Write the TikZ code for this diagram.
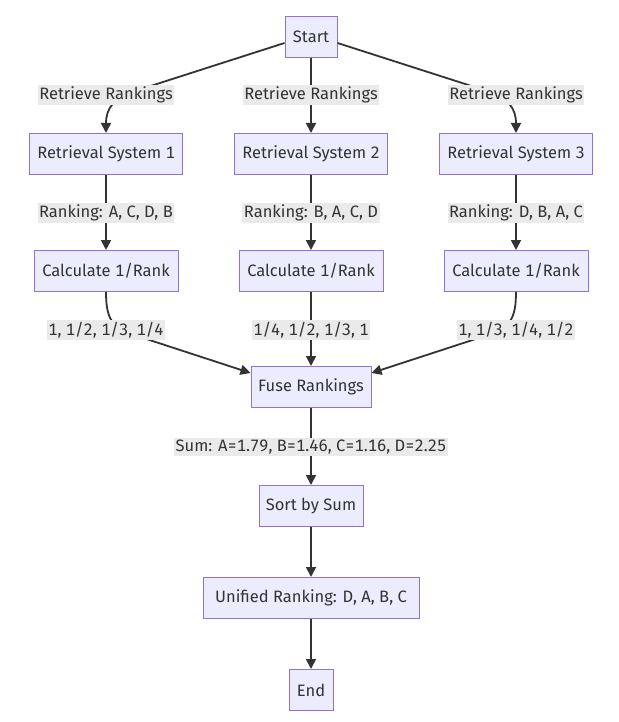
\documentclass[tikz,border=0pt]{standalone}
\usepackage{fontspec}
\setmainfont[Numbers=Monospaced]{Fira Sans}
\usetikzlibrary{arrows.meta}
\definecolor{nodefill}{HTML}{ECECFF}
\definecolor{nodeline}{HTML}{9370DB}
\definecolor{edgecol}{HTML}{333333}
\definecolor{lblfill}{HTML}{EAEAEA}
\definecolor{txtcol}{HTML}{333333}
\begin{document}
\begin{tikzpicture}[x=1pt,y=-1pt,
  box/.style={draw=nodeline,fill=nodefill,line width=1pt,minimum height=41pt,inner sep=0pt,text=txtcol,font=\fontsize{16.5}{19}\selectfont},
  lbl/.style={fill=lblfill,inner sep=1.5pt,text=txtcol,font=\fontsize{16.5}{19}\selectfont},
  arr/.style={draw=edgecol,line width=1.8pt,-{Triangle[length=10pt,width=10pt]}}]
\useasboundingbox[fill=white] (0,0) rectangle (618,722);
% nodes
\node[box,minimum width=52pt] (start) at (311,37) {Start};
\node[box,minimum width=153pt] (rs1) at (106,154) {Retrieval System 1};
\node[box,minimum width=153pt] (rs2) at (311,154) {Retrieval System 2};
\node[box,minimum width=153pt] (rs3) at (516,154) {Retrieval System 3};
\node[box,minimum width=144pt] (calc1) at (106,271) {Calculate 1/Rank};
\node[box,minimum width=144pt] (calc2) at (311,271) {Calculate 1/Rank};
\node[box,minimum width=144pt] (calc3) at (516,271) {Calculate 1/Rank};
\node[box,minimum width=120pt] (fuse) at (311,387) {Fuse Rankings};
\node[box,minimum width=104pt] (sort) at (311,506) {Sort by Sum};
\node[box,minimum width=216pt] (unif) at (311,598) {Unified Ranking: D, A, B, C};
\node[box,minimum width=44pt] (end) at (311,690) {End};
% edges
\draw[arr] ([yshift=-6pt]start.west) -- (135,91) .. controls (114,98) and (106,108) .. (rs1.north);
\draw[arr] (start) -- (rs2);
\draw[arr] ([yshift=-6pt]start.east) -- (487,91) .. controls (508,98) and (516,108) .. (rs3.north);
\draw[arr] (rs1) -- (calc1);
\draw[arr] (rs2) -- (calc2);
\draw[arr] (rs3) -- (calc3);
\draw[arr] (calc1.south) .. controls (106,318) and (112,326) .. (128,333) -- ([yshift=-7pt]fuse.north west);
\draw[arr] (calc2) -- (fuse);
\draw[arr] (calc3.south) .. controls (516,318) and (510,326) .. (494,333) -- ([yshift=-7pt]fuse.north east);
\draw[arr] (fuse) -- (sort);
\draw[arr] (sort) -- (unif);
\draw[arr] (unif) -- (end);
% labels
\node[lbl] (l1) at (106,95) {Retrieve Rankings};
\node[lbl] (l2) at (311,95) {Retrieve Rankings};
\node[lbl] (l3) at (516,95) {Retrieve Rankings};
\node[lbl] (r1) at (106,213) {Ranking: A, C, D, B};
\node[lbl] (r2) at (311,213) {Ranking: B, A, C, D};
\node[lbl] (r3) at (516,213) {Ranking: D, B, A, C};
\node[lbl] (v1) at (106,330) {1, 1/2, 1/3, 1/4};
\node[lbl] (v2) at (311,330) {1/4, 1/2, 1/3, 1};
\node[lbl] (v3) at (516,330) {1, 1/3, 1/4, 1/2};
\node[lbl] (s1) at (311,447) {Sum: A=1.79, B=1.46, C=1.16, D=2.25};
\end{tikzpicture}
\end{document}
